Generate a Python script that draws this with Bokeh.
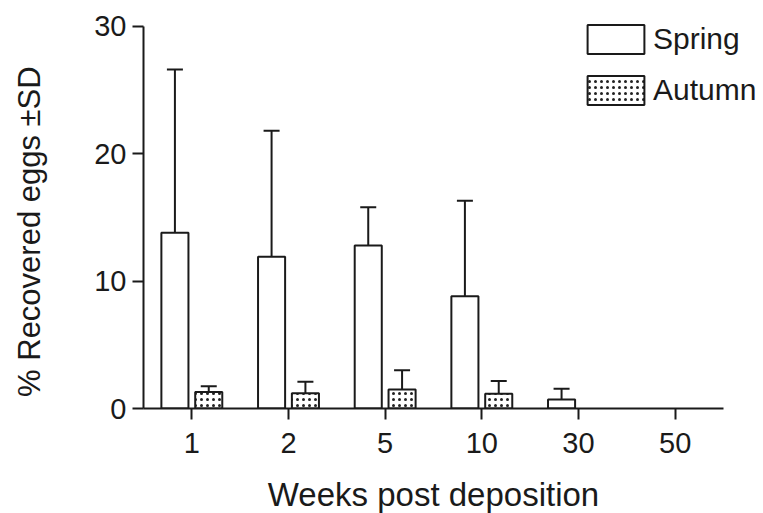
from math import pi
from bokeh.plotting import figure
from bokeh.models import (ColumnDataSource, Range1d, FixedTicker, Label,
                          Legend, LegendItem, CDSView, BooleanFilter)
from bokeh.transform import dodge
from bokeh.embed import file_html
from bokeh.resources import INLINE

weeks = ["1", "2", "5", "10", "30", "50"]
spring = [13.8, 11.9, 12.8, 8.8, 0.7, 0.0]
spring_sd = [12.8, 9.9, 3.0, 7.5, 0.85, 0.0]
autumn = [1.3, 1.2, 1.5, 1.15, 0.0, 0.0]
autumn_sd = [0.45, 0.9, 1.5, 1.0, 0.0, 0.0]
y_ticks = [0, 10, 20, 30]

FONT = "Liberation Sans"
INK = "#1a1a1a"

pos = list(range(len(weeks)))
src = ColumnDataSource(dict(
    pos=pos,
    spring=spring,
    spring_top=[v + s for v, s in zip(spring, spring_sd)],
    autumn=autumn,
    autumn_top=[v + s for v, s in zip(autumn, autumn_sd)],
))
view_s = CDSView(filter=BooleanFilter([v > 0 for v in spring]))
view_a = CDSView(filter=BooleanFilter([v > 0 for v in autumn]))

W, H = 760, 513
p = figure(x_range=Range1d(-0.5, 5.883), y_range=Range1d(0, 31.39),
           width=W, height=H, output_backend="svg", toolbar_location=None,
           min_border_left=143, min_border_right=0, min_border_top=8,
           min_border_bottom=105)
p.outline_line_color = None
p.xgrid.grid_line_color = None
p.ygrid.grid_line_color = None
p.background_fill_color = "white"

off = 0.175
bw = 0.28
xs = dodge("pos", -off)
xa = dodge("pos", off)

# error bars (upper only)
p.segment(x0=xs, y0="spring", x1=xs, y1="spring_top",
          source=src, view=view_s, line_color=INK, line_width=2)
p.scatter(x=xs, y="spring_top", marker="dash", size=16, line_color=INK,
          line_width=2, source=src, view=view_s)
p.segment(x0=xa, y0="autumn", x1=xa, y1="autumn_top",
          source=src, view=view_a, line_color=INK, line_width=2)
p.scatter(x=xa, y="autumn_top", marker="dash", size=16, line_color=INK,
          line_width=2, source=src, view=view_a)

r_s = p.vbar(x=xs, top="spring", width=bw, source=src, view=view_s,
             fill_color="white", line_color=INK, line_width=2)
r_a = p.vbar(x=xa, top="autumn", width=bw, source=src, view=view_a,
             fill_color="white", line_color=INK, line_width=2,
             hatch_pattern="dot", hatch_color="#222222", hatch_scale=6,
             hatch_weight=1.5)

for ax in (p.xaxis[0], p.yaxis[0]):
    ax.axis_line_width = 2
    ax.axis_line_color = INK
    ax.major_tick_line_width = 2
    ax.major_tick_line_color = INK
    ax.major_tick_in = 0
    ax.major_tick_out = 11
    ax.minor_tick_line_color = None
    ax.major_label_text_font = FONT
    ax.major_label_text_font_size = "29px"
    ax.major_label_text_color = INK

p.yaxis[0].ticker = FixedTicker(ticks=y_ticks)
p.yaxis[0].bounds = (y_ticks[0], y_ticks[-1])
p.yaxis[0].major_label_standoff = 6

p.xaxis[0].ticker = FixedTicker(ticks=pos)
p.xaxis[0].major_label_overrides = {i: w for i, w in zip(pos, weeks)}
p.xaxis[0].bounds = (pos[0] - 0.5, pos[-1] + 0.5)
p.xaxis[0].major_label_standoff = 13

# axis titles as labels in the side panels, centred on the axis lines
x_mid = (pos[0] + pos[-1]) / 2
y_mid = 13.88
x_title = Label(text="Weeks post deposition", x=x_mid, y=-2, x_units="data",
                y_units="screen", text_align="center",
                text_baseline="middle", text_font=FONT, text_font_size="33px",
                text_color=INK)
p.add_layout(x_title, "below")
y_title = Label(text="% Recovered eggs ±SD", x=-27, y=y_mid, x_units="screen",
                y_units="data", angle=pi / 2, text_align="center",
                text_baseline="middle", text_font=FONT, text_font_size="31px",
                text_color=INK)
p.add_layout(y_title, "left")

legend = Legend(items=[LegendItem(label="Spring", renderers=[r_s]),
                       LegendItem(label="Autumn", renderers=[r_a])],
                location=(437, 300), orientation="vertical",
                glyph_width=71, glyph_height=36, label_height=36,
                label_standoff=2, spacing=15, padding=0, margin=0,
                border_line_color=None, background_fill_alpha=0,
                label_text_font=FONT, label_text_font_size="30px",
                label_text_color=INK)
p.add_layout(legend, "center")

open("out.html", "w").write(file_html(p, INLINE))
